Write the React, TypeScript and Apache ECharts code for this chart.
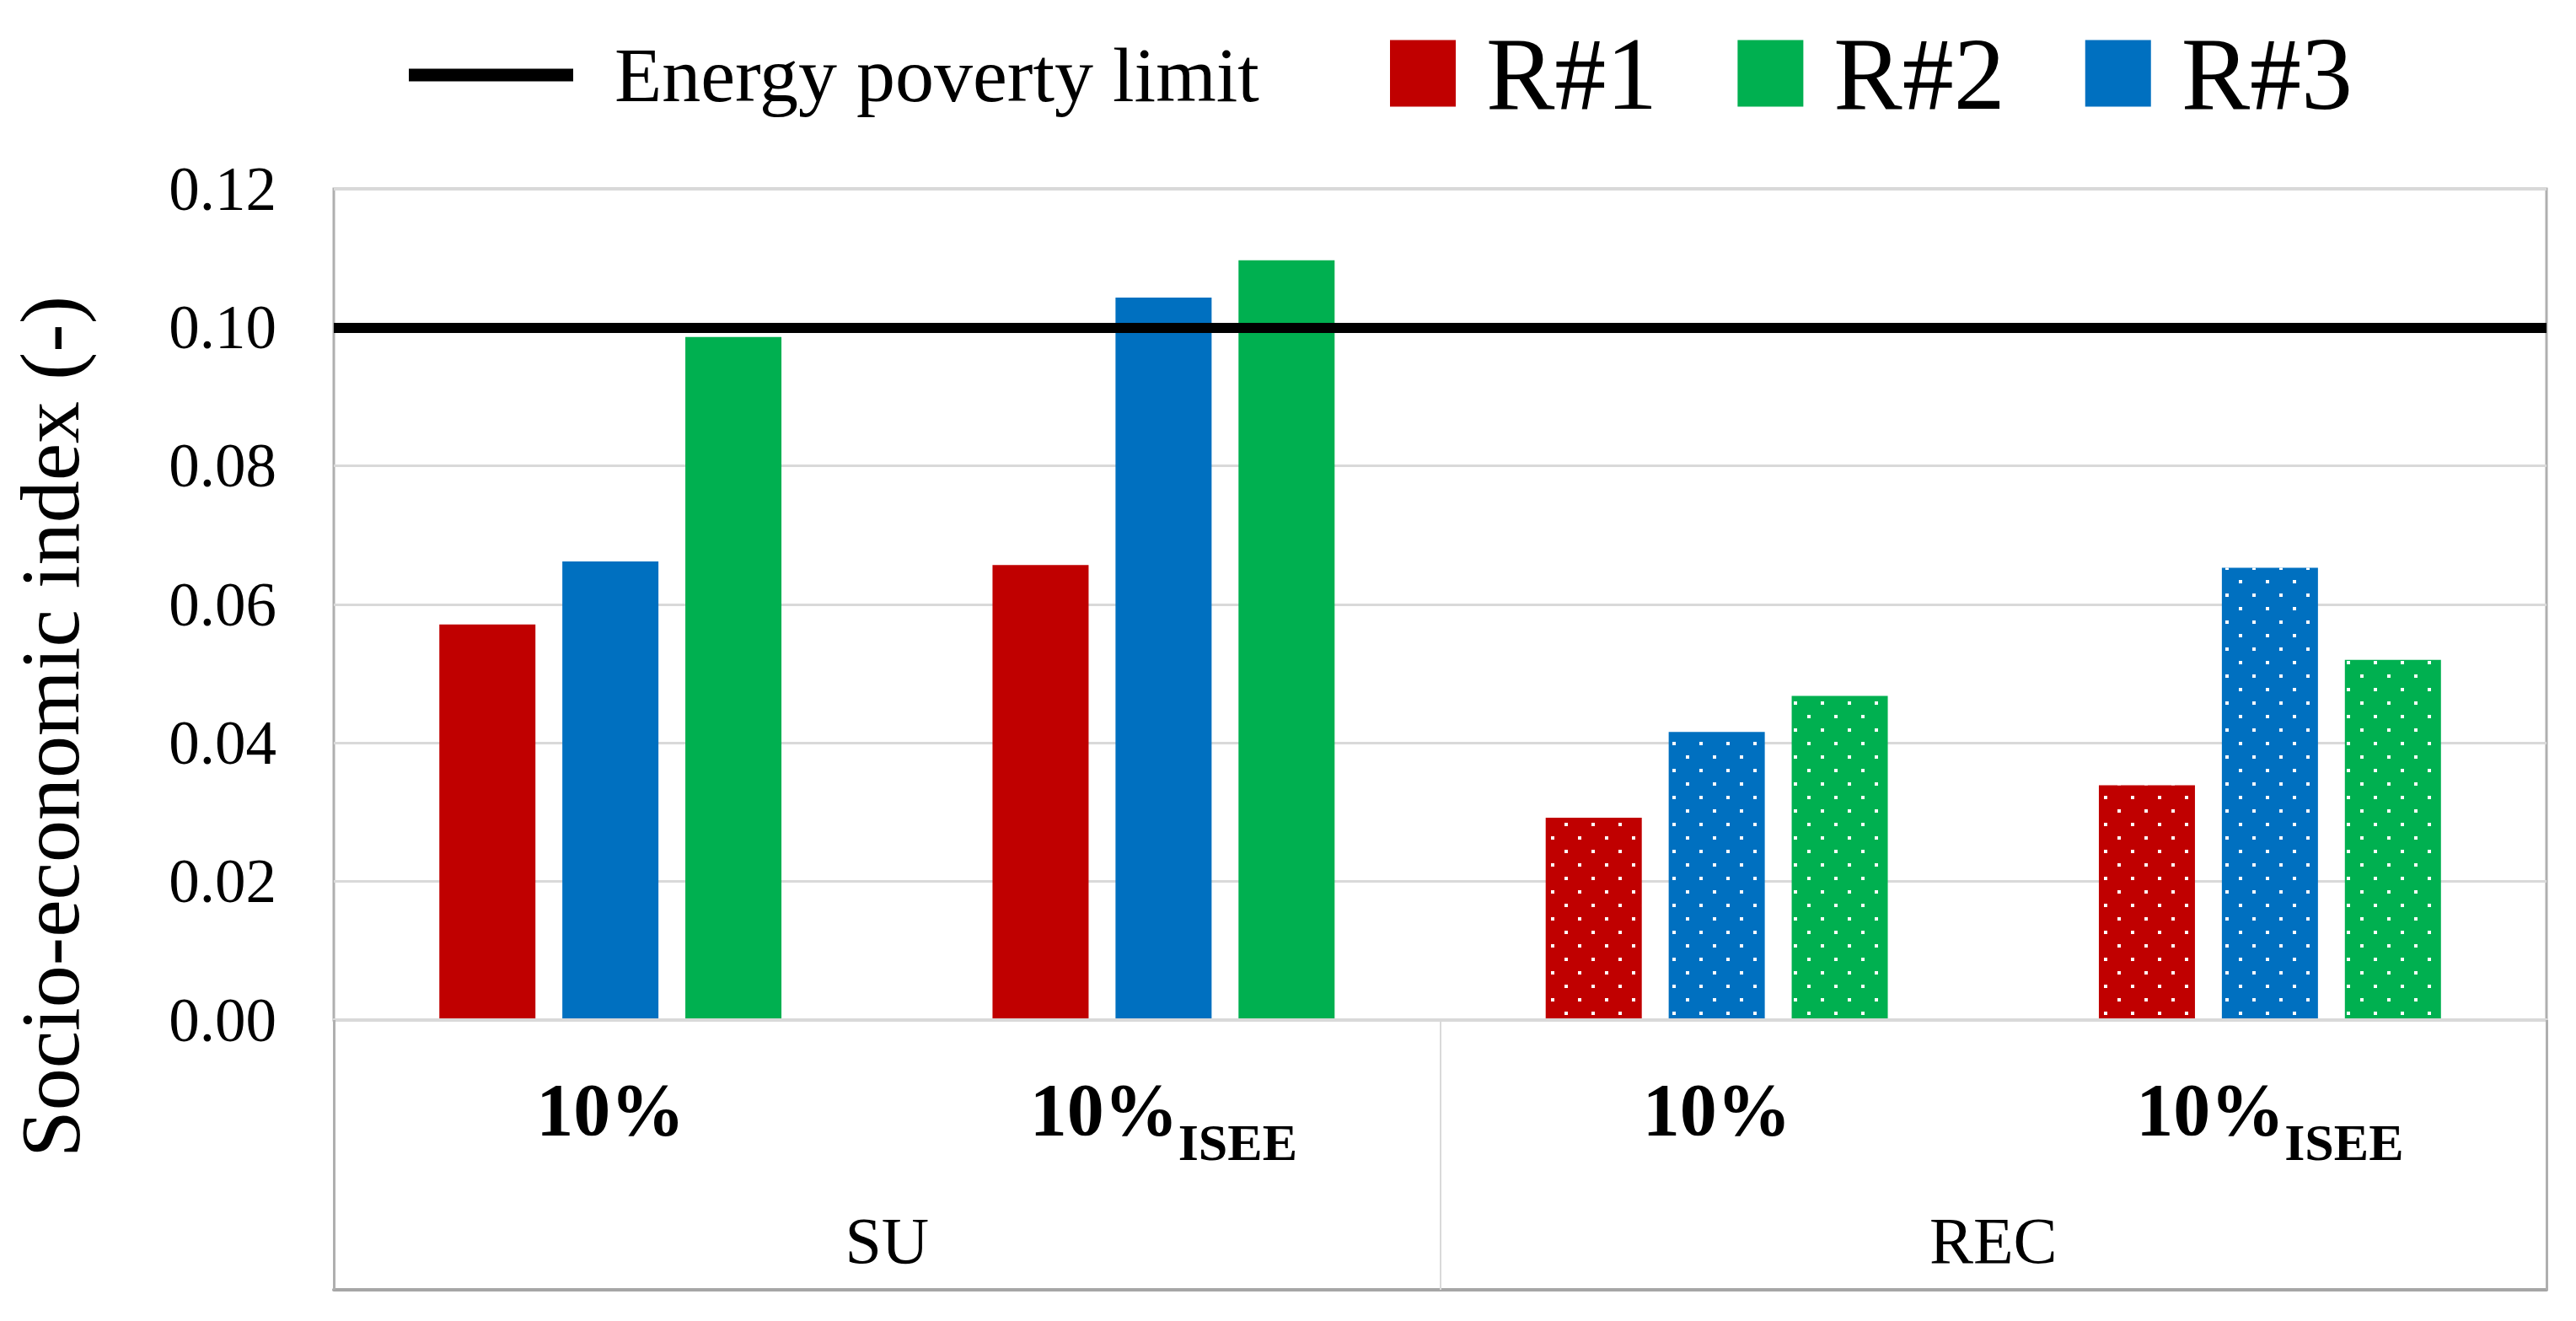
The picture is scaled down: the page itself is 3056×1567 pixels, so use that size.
import React, { useEffect, useRef } from 'react';
import * as echarts from 'echarts';

const FONT = 'Liberation Serif';

// Data
const categories = ['10%', '10%ISEE', '10%', '10%ISEE'];
const groups = ['SU', 'REC'];
const r1Values = [0.0571, 0.0657, 0.0292, 0.0339];
const r3Values = [0.0662, 0.1043, 0.0416, 0.0653];
const r2Values = [0.0986, 0.1097, 0.0468, 0.052];
const patterned = [false, false, true, true];
const povertyLimit = 0.1;
const yMin = 0;
const yMax = 0.12;
const yInterval = 0.02;

const dots = {
  symbol: 'rect',
  symbolSize: 1,
  color: '#ffffff',
  dashArrayX: [[4, 28], [0, 16, 4, 12]],
  dashArrayY: [4, 12],
  rotation: 0,
};

const mk = (vals: number[]) =>
  vals.map((v, i) => (patterned[i] ? { value: v, itemStyle: { decal: dots } } : v));

export default function App() {
  const ref = useRef<HTMLDivElement>(null);
  useEffect(() => {
    const chart = echarts.init(ref.current!, null, { renderer: 'svg' });
    const barCommon = { type: 'bar', barWidth: 114, barGap: '28%' };
    chart.setOption({
      animation: false,
      backgroundColor: '#ffffff',
      grid: {
        left: 396,
        right: 35,
        top: 224,
        bottom: 357,
        containLabel: false,
        outerBoundsMode: 'none',
        show: true,
        borderColor: '#AFAFAF',
        borderWidth: 3,
        backgroundColor: 'transparent',
      },
      legend: [
        {
          data: [{ name: 'Energy poverty limit', icon: 'rect' }],
          left: 480,
          top: 38,
          itemWidth: 195,
          itemHeight: 15,
          selectedMode: false,
          textStyle: { fontFamily: FONT, fontSize: 92, color: '#000', padding: [0, 0, 24, 44] },
        },
        {
          data: [
            { name: 'R#1', icon: 'rect' },
            { name: 'R#2', icon: 'rect' },
            { name: 'R#3', icon: 'rect' },
          ],
          left: 1644,
          top: 21,
          itemWidth: 78,
          itemHeight: 79,
          itemGap: 95,
          selectedMode: false,
          textStyle: { fontFamily: FONT, fontSize: 122, color: '#000', padding: [0, 0, 0, 31] },
        },
      ],
      xAxis: [
        {
          type: 'category',
          data: categories,
          z: 5,
          axisLine: { lineStyle: { color: '#D9D9D9', width: 4 } },
          axisTick: { show: false },
          splitLine: { show: false },
          axisLabel: {
            interval: 0,
            margin: 36,
            formatter: (v: string) =>
              v.endsWith('ISEE') ? '{a|' + v.slice(0, -4) + '}{b|ISEE}' : '{a|' + v + '}',
            rich: {
              a: { fontFamily: FONT, fontWeight: 'bold', fontSize: 88, lineHeight: 140, color: '#000' },
              b: {
                fontFamily: FONT,
                fontWeight: 'bold',
                fontSize: 62,
                lineHeight: 88,
                verticalAlign: 'bottom',
                color: '#000',
              },
            },
          },
        },
        {
          type: 'category',
          data: groups,
          position: 'bottom',
          offset: 320,
          z: 5,
          axisLine: { lineStyle: { color: '#A6A6A6', width: 4 } },
          axisTick: { show: true, inside: true, length: 320, lineStyle: { color: '#D9D9D9', width: 2 } },
          splitLine: { show: false },
          axisLabel: { inside: true, margin: 20, fontFamily: FONT, fontSize: 78, color: '#000' },
        },
        {
          type: 'category',
          data: [''],
          position: 'bottom',
          offset: 320,
          z: 6,
          axisLine: { show: false },
          axisTick: { show: true, inside: true, length: 320, lineStyle: { color: '#AFAFAF', width: 3 } },
          splitLine: { show: false },
          axisLabel: { show: false },
        },
      ],
      yAxis: {
        type: 'value',
        min: yMin,
        max: yMax,
        interval: yInterval,
        axisLine: { show: false },
        axisTick: { show: false },
        splitLine: { lineStyle: { color: '#D9D9D9', width: 3 } },
        axisLabel: {
          formatter: (v: number) => v.toFixed(2),
          fontFamily: FONT,
          fontSize: 73,
          color: '#000',
          margin: 68,
        },
        name: 'Socio-economic index (-)',
        nameLocation: 'middle',
        nameGap: 287,
        nameMoveOverlap: false,
        nameTextStyle: { fontFamily: FONT, fontSize: 100, color: '#000', padding: [0, 290, 0, 0] },
      },
      series: [
        { ...barCommon, name: 'R#1', data: mk(r1Values), itemStyle: { color: '#C00000' } },
        { ...barCommon, name: 'R#3', data: mk(r3Values), itemStyle: { color: '#0070C0' } },
        { ...barCommon, name: 'R#2', data: mk(r2Values), itemStyle: { color: '#00B050' } },
        {
          name: 'Energy poverty limit',
          type: 'line',
          data: [],
          color: '#000',
          itemStyle: { color: '#000' },
          lineStyle: { color: '#000' },
          markLine: {
            silent: true,
            z: 10,
            symbol: ['none', 'none'],
            label: { show: false },
            lineStyle: { color: '#000', width: 12, type: 'solid' },
            data: [{ yAxis: povertyLimit }],
          },
        },
      ],
    });
    return () => chart.dispose();
  }, []);
  return (
    <div
      ref={ref}
      style={{ position: 'absolute', left: 0, top: 0, width: 3056, height: 1567, background: '#fff' }}
    />
  );
}
